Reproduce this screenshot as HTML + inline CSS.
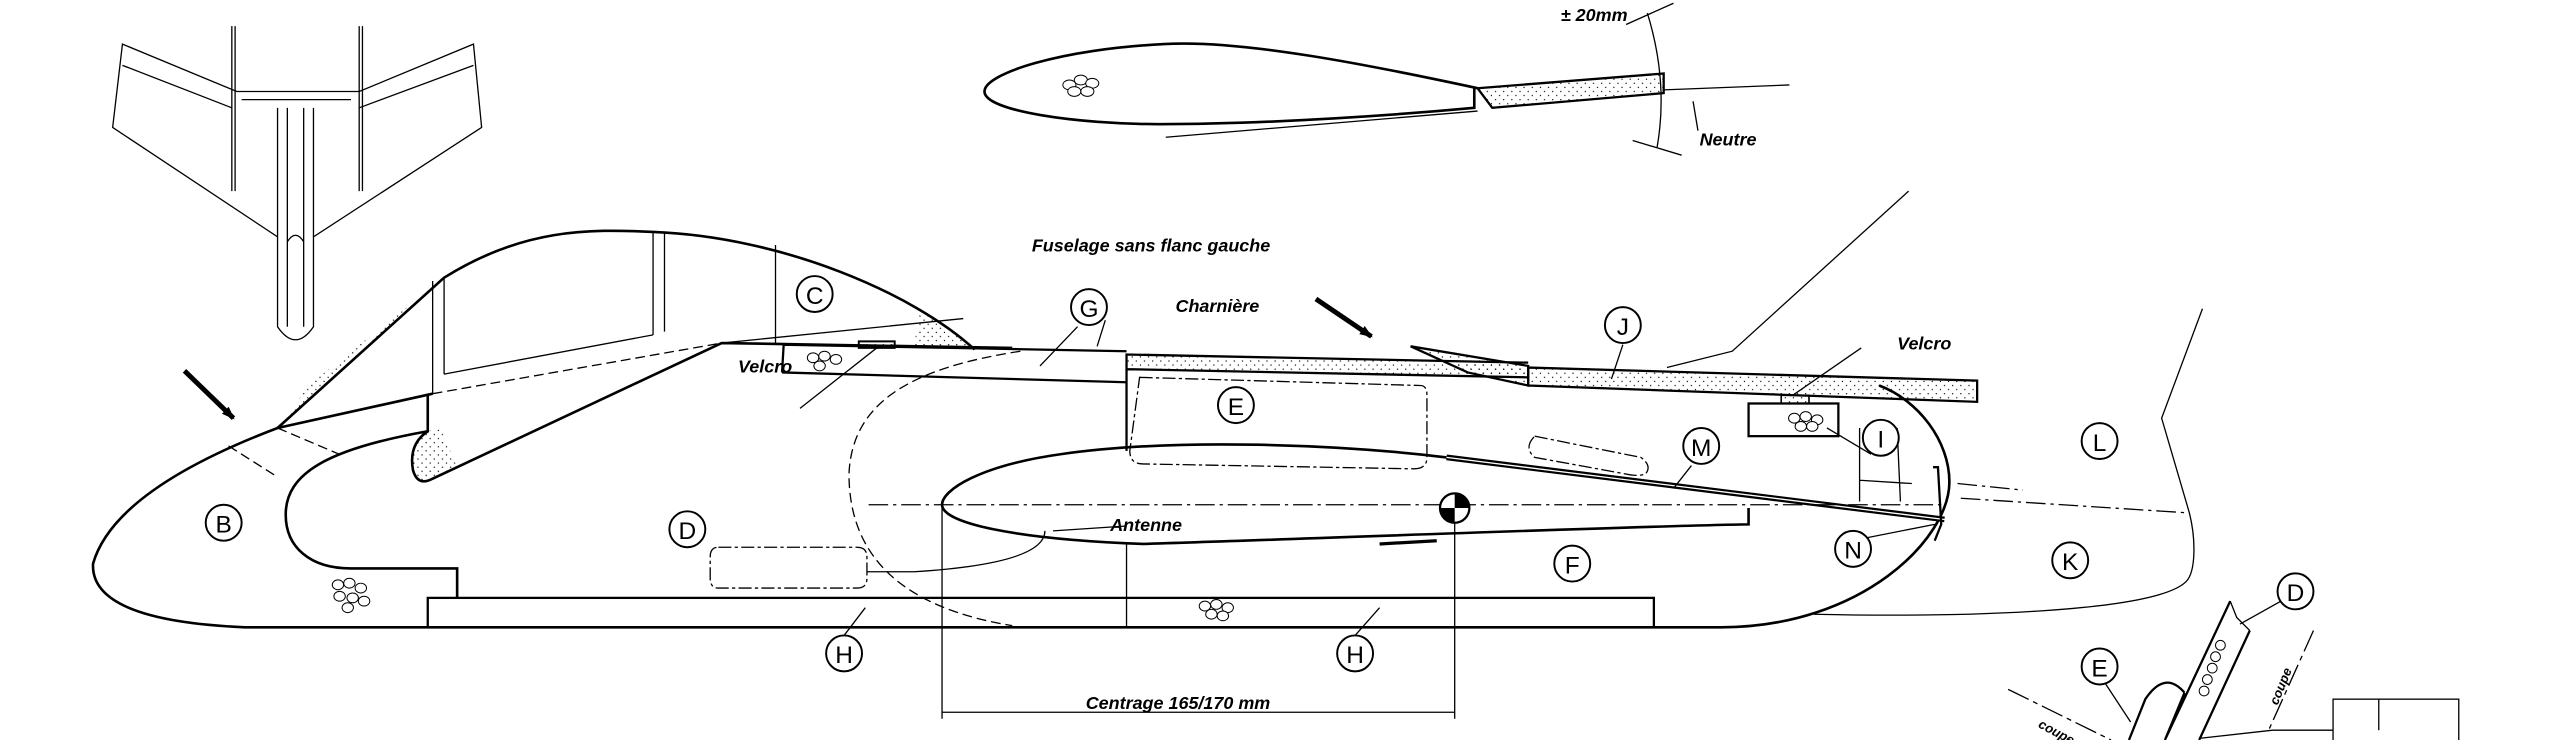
<!DOCTYPE html>
<html><head><meta charset="utf-8"><style>
html,body{margin:0;padding:0;background:#fff;}
svg{display:block;}
text{font-family:"Liberation Sans",sans-serif;font-style:italic;font-weight:bold;fill:#000;}
.c{font-style:normal;font-weight:normal;font-size:15px;text-anchor:middle;}
</style></head><body>
<svg width="2560" height="740" viewBox="0 0 1568 453" preserveAspectRatio="none" xmlns="http://www.w3.org/2000/svg">
<defs>
<pattern id="st" width="5" height="5" patternUnits="userSpaceOnUse"><circle cx="1" cy="1" r="0.4" fill="#000"/><circle cx="3.5" cy="3.5" r="0.4" fill="#000"/></pattern>
<marker id="ar" markerWidth="8" markerHeight="8" refX="7" refY="4" orient="auto" markerUnits="userSpaceOnUse"><path d="M0,1 L8,4 L0,7z" fill="#000"/></marker>
</defs>
<g fill="none" stroke="#000" stroke-width="0.8">
<!-- planform -->
<path d="M75,27 L69,78 L170,145 L170,200 Q181,216 192,200 L192,145 L295,78 L290,27 L220,56 L145,56 Z"/>
<path d="M75,40 L142,66 M290,40 L220,66 M148,61 L215,61 M170,66 L170,145 M192,66 L192,145 M176,66 L176,200 M186,66 L186,200 M176,148 Q181,140 186,148"/>
<path d="M142,16 L142,117 M144,16 L144,117 M220,16 L220,117 M222,16 L222,117"/>
<!-- top airfoil -->
<path stroke-width="1.6" d="M905,54 C840,40 760,24 713,27 C650,30 603,45 603,56 C603,68 660,76 710,76 C780,76 860,70 903,66 L903,54"/>
<path d="M714,84 L905,68"/>
<path stroke-width="1.4" fill="url(#st)" d="M905,54 L1019,45 L1019,57 L914,66 Z"/>
<path d="M1019,55 L1096,52 M1009,8 Q1022,50 1015,90 M996,15 L1025,2 M1000,86 L1030,95 M1037,62 L1040,80"/>
<!-- main fuselage outline -->
<path stroke-width="1.6" d="M265,241 L170,262 Q70,300 57,345 Q55,380 150,384 L1054,384 C1140,384 1194,330 1194,295 C1194,270 1175,245 1151,236"/>
<path stroke-width="1.6" d="M280,366 L280,348 L215,348 C190,348 175,335 175,315 C175,290 200,275 262,264 L262,241"/>
<path fill="url(#st)" stroke="none" d="M262,264 Q250,272 253,288 Q256,298 265,293 L280,286 L270,262 Z"/>
<path stroke-width="1.6" d="M262,264 Q250,272 253,288 Q256,298 265,293 L442,210 L620,213"/>
<rect x="262" y="366" width="751" height="18" stroke-width="1.4"/>
<!-- canopy -->
<path stroke-width="1.6" d="M170,262 L272,170 C320,140 360,140 400,142 C480,145 560,180 597,214"/>
<path fill="url(#st)" d="M170,262 L272,170 L190,235 Z" stroke="none"/>
<path fill="url(#st)" d="M563,190 C585,200 597,214 597,214 L560,212 Z" stroke="none"/>
<path d="M265,172 L265,241 M272,170 L272,229 M400,142 L400,205 M407,142 L407,203 M475,150 L475,210 M272,229 L400,205 M442,210 L590,195"/>
<path stroke-dasharray="6,3" d="M265,241 L442,210 M140,273 L170,292 M170,262 L210,279 M625,215 C560,225 522,245 520,290 C520,330 540,370 620,383"/>
<!-- G board -->
<path stroke-width="1.4" d="M480,211 L690,215 M479,228 L690,234 M480,211 L479,228"/>
<path stroke-width="1.2" d="M526,209 L548,209 L548,213 L526,213 Z" fill="url(#st)"/>
<path d="M537,213 L490,250 M677,196 L672,212"/>
<!-- E box and board -->
<path stroke-width="1.4" d="M690,217 L690,276 M690,234 L690,217 L936,222 M690,226 L936,231"/>
<path fill="url(#st)" d="M690,217 L936,222 L936,231 L690,226 Z" stroke="none"/>
<path stroke-width="1.4" fill="url(#st)" d="M864,212 L899,228 L936,236 L936,224 Z"/>
<path stroke-width="1.4" fill="url(#st)" d="M936,225 L1211,233 L1211,246 L936,236 Z"/>
<path stroke-dasharray="8,2,2,2" d="M698,231 L870,236 Q874,236 874,242 L874,280 Q874,287 866,287 L700,284 Q692,284 692,276 Z"/>
<path stroke-dasharray="8,2,2,2" d="M440,335 L525,335 Q531,335 531,341 L531,354 Q531,360 525,360 L440,360 Q435,360 435,354 L435,341 Q435,335 440,335 Z"/>
<path stroke-dasharray="8,2,2,2" d="M940,267 L1005,280 Q1012,285 1008,290 Q1004,292 995,290 L940,280 Q933,274 940,267 Z"/>
<!-- wing in fuselage -->
<path stroke-width="1.6" d="M886,280 C820,272 720,268 650,278 C600,285 577,300 577,309 C577,320 620,330 700,333 C800,330 1000,322 1071,321 L1071,311"/>
<path stroke-width="2" d="M845,333 L880,331"/>
<path stroke-width="3.5" d="M886,280 L1191,318"/>
<path stroke-width="0.8" stroke="#fff" d="M886,280 L1191,318"/>
<path stroke-width="1.4" d="M1184,286 L1187,286 L1189,321 L1185,331"/>
<path stroke-dasharray="12,3,2,3" d="M532,309 L1190,309 M1201,305 L1341,314 M1199,296 L1239,300"/>
<path d="M1139,262 L1139,307 M1139,294 L1171,296 M1162,262 L1164,307"/>
<path d="M690,332 L690,384 M577,309 L577,440 M891,320 L891,440 M577,436 L891,436"/>
<path d="M640,325 Q640,345 560,350 L531,350"/>
<!-- I box -->
<rect x="1071" y="247" width="55" height="20" stroke-width="1.4"/>
<path d="M1091,247 L1091,242 L1108,242 L1108,247 Z" fill="url(#st)" stroke-width="1"/>
<path d="M1098,242 L1140,213"/>
<!-- tail L/K -->
<path d="M1169,117 L1061,215 L1021,225 M1349,189 L1324,256 L1341,314 C1345,330 1345,350 1339,356 C1320,375 1200,378 1111,376"/>
<!-- leaders -->
<path d="M660,200 L637,224 M994,211 L987,232 M1146,278 L1119,262 M1036,285 L1025,299 M1124,333 L1185,321 M517,389 L530,372 M830,389 L845,372 M690,322 L645,325"/>
<!-- arrows -->
<path stroke-width="3" d="M113,227 L143,256" marker-end="url(#ar)"/>
<path stroke-width="3" d="M806,183 L840,206" marker-end="url(#ar)"/>
<!-- bottom right detail -->
<path stroke-width="1.4" d="M1366,368 L1326,453 M1378,386 L1347,453 M1338,424 L1326,453 M1304,453 L1314,428 Q1326,410 1338,424"/>
<path d="M1366,368 L1370,378 L1378,386 M1406,363 L1372,382 M1284,410 L1305,442 M1347,452 L1392,447 L1429,447"/>
<path stroke-dasharray="14,3,3,3" d="M1230,422 L1293,453 M1417,386 L1390,446"/>
<rect x="1429" y="428" width="77" height="30"/>
<path d="M1457,428 L1457,447"/>
</g>
<!-- gravel dots -->
<g fill="#fff" stroke="#000" stroke-width="0.6">
<ellipse cx="655" cy="52" rx="4" ry="3"/><ellipse cx="662" cy="49" rx="4" ry="3"/><ellipse cx="669" cy="51" rx="4" ry="3"/><ellipse cx="658" cy="56" rx="4" ry="3"/><ellipse cx="666" cy="56" rx="4" ry="3"/>
<ellipse cx="207" cy="358" rx="3.5" ry="3"/><ellipse cx="214" cy="357" rx="3.5" ry="3"/><ellipse cx="221" cy="360" rx="3.5" ry="3"/><ellipse cx="208" cy="365" rx="3.5" ry="3"/><ellipse cx="216" cy="366" rx="3.5" ry="3"/><ellipse cx="223" cy="368" rx="3.5" ry="3"/><ellipse cx="213" cy="372" rx="3.5" ry="3"/>
<ellipse cx="498" cy="219" rx="3.5" ry="3"/><ellipse cx="505" cy="218" rx="3.5" ry="3"/><ellipse cx="512" cy="220" rx="3.5" ry="3"/><ellipse cx="502" cy="224" rx="3.5" ry="3"/>
<ellipse cx="738" cy="371" rx="3.5" ry="3"/><ellipse cx="745" cy="370" rx="3.5" ry="3"/><ellipse cx="752" cy="372" rx="3.5" ry="3"/><ellipse cx="742" cy="376" rx="3.5" ry="3"/><ellipse cx="749" cy="377" rx="3.5" ry="3"/>
<ellipse cx="1099" cy="256" rx="3.5" ry="3"/><ellipse cx="1106" cy="255" rx="3.5" ry="3"/><ellipse cx="1113" cy="257" rx="3.5" ry="3"/><ellipse cx="1103" cy="261" rx="3.5" ry="3"/><ellipse cx="1110" cy="261" rx="3.5" ry="3"/>
<ellipse cx="1360" cy="395" rx="3" ry="3"/><ellipse cx="1357" cy="402" rx="3" ry="3"/><ellipse cx="1355" cy="409" rx="3" ry="3"/><ellipse cx="1352" cy="416" rx="3" ry="3"/><ellipse cx="1350" cy="423" rx="3" ry="3"/>
</g>
<!-- CG -->
<circle cx="891" cy="311" r="9" fill="#fff" stroke="#000" stroke-width="1.4"/>
<path d="M891,311 L891,302 A9,9 0 0 1 900,311 Z M891,311 L891,320 A9,9 0 0 1 882,311 Z" fill="#000"/>
<!-- circle labels -->
<g fill="#fff" stroke="#000" stroke-width="1.2">
<circle cx="137" cy="320" r="11"/><circle cx="499" cy="180" r="11"/><circle cx="667" cy="188" r="11"/><circle cx="757" cy="248" r="11"/><circle cx="421" cy="324" r="11"/><circle cx="963" cy="345" r="11"/><circle cx="517" cy="400" r="11"/><circle cx="830" cy="400" r="11"/><circle cx="994" cy="199" r="11"/><circle cx="1152" cy="268" r="11"/><circle cx="1042" cy="273" r="11"/><circle cx="1135" cy="336" r="11"/><circle cx="1286" cy="270" r="11"/><circle cx="1268" cy="343" r="11"/><circle cx="1406" cy="362" r="11"/><circle cx="1286" cy="408" r="11"/>
</g>
<g>
<text class="c" x="137" y="326">B</text><text class="c" x="499" y="186">C</text><text class="c" x="667" y="194">G</text><text class="c" x="757" y="254">E</text><text class="c" x="421" y="330">D</text><text class="c" x="963" y="351">F</text><text class="c" x="517" y="406">H</text><text class="c" x="830" y="406">H</text><text class="c" x="994" y="205">J</text><text class="c" x="1152" y="274">I</text><text class="c" x="1042" y="279">M</text><text class="c" x="1135" y="342">N</text><text class="c" x="1286" y="276">L</text><text class="c" x="1268" y="349">K</text><text class="c" x="1406" y="368">D</text><text class="c" x="1286" y="414">E</text>
</g>
<!-- text -->
<g font-size="11">
<text x="632" y="154">Fuselage sans flanc gauche</text>
<text x="720" y="191">Charnière</text>
<text x="452" y="228">Velcro</text>
<text x="1162" y="214">Velcro</text>
<text x="680" y="325">Antenne</text>
<text x="665" y="434">Centrage 165/170 mm</text>
<text x="956" y="13">± 20mm</text>
<text x="1041" y="89">Neutre</text>
<text x="1248" y="445" font-size="8" transform="rotate(28 1248 445)">coupe</text>
<text x="1395" y="432" font-size="8" transform="rotate(-68 1395 432)">coupe</text>
</g>
</svg>
</body></html>
